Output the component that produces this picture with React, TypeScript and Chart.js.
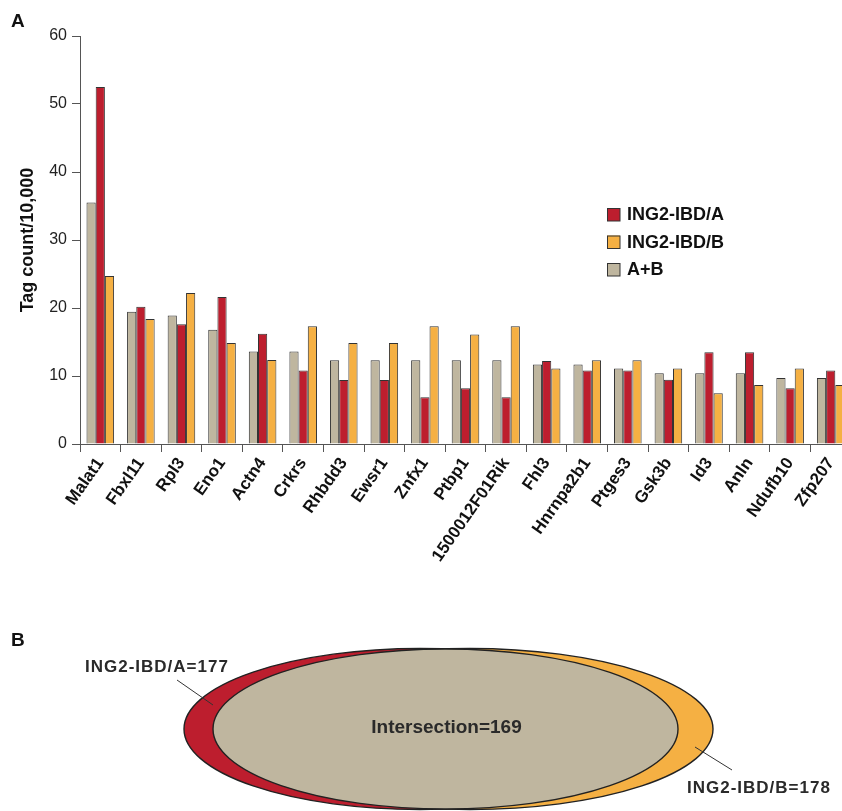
import React, { useEffect, useRef } from "react";
import { Chart, registerables } from "chart.js";

Chart.register(...registerables);

// ---------- data ----------
const genes = [
  "Malat1", "Fbxl11", "Rpl3", "Eno1", "Actn4", "Crkrs", "Rhbdd3", "Ewsr1", "Znfx1", "Ptbp1",
  "1500012F01Rik", "Fhl3", "Hnrnpa2b1", "Ptges3", "Gsk3b", "Id3", "Anln", "Ndufb10", "Zfp207",
];
const seriesAB = [35.5, 19.45, 18.9, 16.8, 13.6, 13.6, 12.3, 12.3, 12.3, 12.3, 12.3, 11.7, 11.7, 11.1, 10.4, 10.4, 10.4, 9.7, 9.7];
const seriesA = [52.5, 20.2, 17.6, 21.6, 16.2, 10.8, 9.4, 9.4, 6.87, 8.19, 6.87, 12.2, 10.8, 10.8, 9.46, 13.5, 13.5, 8.19, 10.8];
const seriesB = [24.7, 18.4, 22.2, 14.85, 12.35, 17.3, 14.85, 14.85, 17.3, 16.1, 17.3, 11.1, 12.3, 12.3, 11.1, 7.45, 8.68, 11.1, 8.68];
const seriesNames = ["A+B", "ING2-IBD/A", "ING2-IBD/B"];
const legendOrder = ["ING2-IBD/A", "ING2-IBD/B", "A+B"];
const yAxisTitle = "Tag count/10,000";
const yMin = 0;
const yMax = 60;
const yStep = 10;
const vennNames = ["ING2-IBD/A", "ING2-IBD/B", "Intersection"];
const vennCounts = [177, 178, 169];

// ---------- styles ----------
const FONT = '"Liberation Sans", Arial, Helvetica, sans-serif';
const GREY = "#BFB69F";
const RED = "#BD1E2E";
const ORANGE = "#F5B043";
const EDGE = "#333333";
const AXIS = "#555555";

const panelPlugin = {
  id: "panels",
  afterDraw(chart: any) {
    const ctx = chart.ctx as CanvasRenderingContext2D;
    ctx.save();
    // panel letters
    ctx.fillStyle = "#111";
    ctx.font = `bold 19px ${FONT}`;
    ctx.textAlign = "left";
    ctx.textBaseline = "alphabetic";
    ctx.fillText("A", 11, 27);
    ctx.fillText("B", 11, 646);

    // legend
    legendOrder.forEach((name, i) => {
      const ds = chart.data.datasets.find((d: any) => d.label === name);
      const y = 208 + i * 27.5;
      ctx.fillStyle = ds.backgroundColor;
      ctx.fillRect(607, y, 13, 13);
      ctx.strokeStyle = EDGE;
      ctx.lineWidth = 1;
      ctx.strokeRect(607.5, y + 0.5, 12.5, 12.5);
      ctx.fillStyle = "#111";
      ctx.font = `bold 18px ${FONT}`;
      ctx.textBaseline = "middle";
      ctx.fillText(name, 627, y + 7.5);
    });

    // venn diagram (panel B)
    const ell = (cx: number, cy: number, rx: number, ry: number, fill: string) => {
      ctx.beginPath();
      ctx.ellipse(cx, cy, rx, ry, 0, 0, Math.PI * 2);
      ctx.fillStyle = fill;
      ctx.fill();
      ctx.strokeStyle = "#222";
      ctx.lineWidth = 1.4;
      ctx.stroke();
    };
    ell(420, 729, 236, 80.5, RED);
    ell(470, 729, 243, 80.5, ORANGE);
    ell(445.5, 729, 232.5, 80, GREY);

    ctx.strokeStyle = "#333";
    ctx.lineWidth = 1;
    ctx.beginPath();
    ctx.moveTo(177, 680);
    ctx.lineTo(213, 705);
    ctx.moveTo(695, 747);
    ctx.lineTo(732, 770);
    ctx.stroke();

    ctx.fillStyle = "#2a2a2a";
    ctx.textBaseline = "alphabetic";
    ctx.font = `bold 19px ${FONT}`;
    ctx.textAlign = "center";
    ctx.fillText(`${vennNames[2]}=${vennCounts[2]}`, 446.5, 733);
    ctx.textAlign = "left";
    ctx.font = `bold 17px ${FONT}`;
    (ctx as any).letterSpacing = "1px";
    ctx.fillText(`${vennNames[0]}=${vennCounts[0]}`, 85, 672);
    ctx.fillText(`${vennNames[1]}=${vennCounts[1]}`, 687, 793);
    (ctx as any).letterSpacing = "0px";
    ctx.restore();
  },
};

export default function App() {
  const ref = useRef<HTMLCanvasElement>(null);
  useEffect(() => {
    if (!ref.current) return;
    const colors = [GREY, RED, ORANGE];
    const values = [seriesAB, seriesA, seriesB];
    const chart = new Chart(ref.current, {
      type: "bar",
      data: {
        labels: genes,
        datasets: seriesNames.map((name, i) => ({
          label: name,
          data: values[i],
          backgroundColor: colors[i],
          borderColor: EDGE,
          borderWidth: 1,
          categoryPercentage: 0.68,
          barPercentage: 1.0,
        })),
      },
      options: {
        responsive: false,
        animation: false,
        devicePixelRatio: 1,
        layout: { padding: { top: 36, left: 0, right: 0, bottom: 0 } },
        plugins: {
          legend: { display: false },
          tooltip: { enabled: false },
        },
        scales: {
          x: {
            grid: { display: true, drawOnChartArea: false, drawTicks: true, tickLength: 8, color: AXIS, offset: true },
            border: { display: true, color: AXIS, width: 1 },
            ticks: {
              autoSkip: false,
              minRotation: 55,
              maxRotation: 55,
              color: "#111",
              padding: 2,
              font: { family: FONT, size: 17, weight: "bold" },
            },
            afterFit: (s: any) => {
              s.height = 811 - 444;
              s.paddingLeft = 0;
              s.paddingRight = 0;
            },
          },
          y: {
            min: yMin,
            max: yMax,
            ticks: { stepSize: yStep, color: "#222", padding: 5, font: { family: FONT, size: 16 } },
            grid: { display: true, drawOnChartArea: false, drawTicks: true, tickLength: 8, color: AXIS },
            border: { display: true, color: AXIS, width: 1 },
            title: {
              display: true,
              text: yAxisTitle,
              color: "#111",
              font: { family: FONT, size: 18, weight: "bold" },
              padding: { top: 17, bottom: 0 },
            },
            afterFit: (s: any) => {
              s.width = 80;
            },
          },
        },
      },
      plugins: [panelPlugin],
    } as any);
    return () => chart.destroy();
  }, []);

  return (
    <div
      style={{
        position: "fixed",
        left: 0,
        top: 0,
        width: 842,
        height: 811,
        overflow: "hidden",
        background: "#fff",
      }}
    >
      <canvas ref={ref} width={851} height={811} style={{ width: 851, height: 811, display: "block" }} />
    </div>
  );
}
